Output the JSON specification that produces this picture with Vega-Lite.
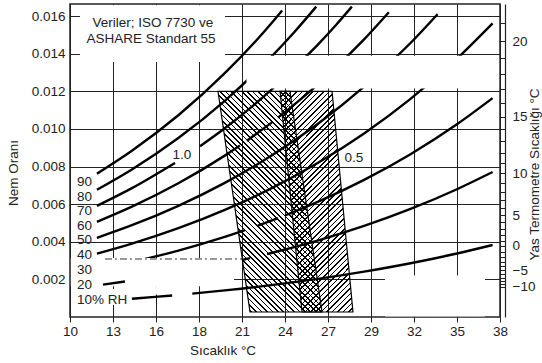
{
"$schema":"https://vega.github.io/schema/vega-lite/v6.json",
"width":430,"height":313,
"autosize":{"type":"none"},
"padding":{"left":70,"top":4,"right":42,"bottom":46},
"config":{"font":"Liberation Sans","view":{"stroke":"#222","strokeWidth":1.5},
"axis":{"labelFont":"Liberation Sans","titleFont":"Liberation Sans","labelFontSize":13.5,"titleFontSize":13.5,"titleFontWeight":"normal","labelColor":"#222","titleColor":"#222","gridColor":"#222","gridWidth":1,"gridOpacity":1,"tickColor":"#222","domainColor":"#222"}},
"datasets":{
"winter":[{"T":19.56,"T2":24.21,"W":0.012},{"T":21.63,"T2":26.28,"W":0.000266}],
"summer":[{"T":23.57,"T2":26.93,"W":0.012},{"T":24.99,"T2":28.28,"W":0.000266}],
"curves":[
{"seg":"c90","T":11.74,"W":0.007621},{"seg":"c90","T":14,"W":0.00884},{"seg":"c90","T":17,"W":0.010724},{"seg":"c90","T":20,"W":0.01296},{"seg":"c90","T":23,"W":0.015606},{"seg":"c90","T":23.705,"W":0.0163},
{"seg":"c80","T":11.74,"W":0.006765},{"seg":"c80","T":14,"W":0.007845},{"seg":"c80","T":17,"W":0.009514},{"seg":"c80","T":20,"W":0.011493},{"seg":"c80","T":23,"W":0.013833},{"seg":"c80","T":24.5,"W":0.015155},{"seg":"c80","T":25.91,"W":0.0165},
{"seg":"c70a","T":11.74,"W":0.005911},{"seg":"c70a","T":14,"W":0.006853},{"seg":"c70a","T":16.78,"W":0.008193},
{"seg":"c70b","T":18.4,"W":0.009077},{"seg":"c70b","T":20,"W":0.010032},{"seg":"c70b","T":23,"W":0.01207},{"seg":"c70b","T":26,"W":0.014467},{"seg":"c70b","T":27.2,"W":0.01554},{"seg":"c70b","T":28.21,"W":0.0165},
{"seg":"c60a","T":11.74,"W":0.00506},{"seg":"c60a","T":14,"W":0.005865},{"seg":"c60a","T":17,"W":0.007108},{"seg":"c60a","T":20,"W":0.008579},{"seg":"c60a","T":20.98,"W":0.009115},
{"seg":"c60b","T":21.43,"W":0.009371},{"seg":"c60b","T":23.05,"W":0.010347},
{"seg":"c60c","T":23.44,"W":0.010596},{"seg":"c60c","T":26,"W":0.012358},{"seg":"c60c","T":29,"W":0.014756},{"seg":"c60c","T":30.6,"W":0.0162},
{"seg":"c50","T":11.74,"W":0.004211},{"seg":"c50","T":14,"W":0.00488},{"seg":"c50","T":17,"W":0.005912},{"seg":"c50","T":20,"W":0.007133},{"seg":"c50","T":23,"W":0.008573},{"seg":"c50","T":26,"W":0.010264},{"seg":"c50","T":29,"W":0.012247},{"seg":"c50","T":32,"W":0.014566},{"seg":"c50","T":33.75,"W":0.0161},
{"seg":"c40","T":11.74,"W":0.003364},{"seg":"c40","T":14,"W":0.003898},{"seg":"c40","T":17,"W":0.00472},{"seg":"c40","T":20,"W":0.005693},{"seg":"c40","T":23,"W":0.006839},{"seg":"c40","T":26,"W":0.008184},{"seg":"c40","T":29,"W":0.009758},{"seg":"c40","T":32,"W":0.011597},{"seg":"c40","T":35,"W":0.013737},{"seg":"c40","T":37.3,"W":0.015612},
{"seg":"c30a","T":11.74,"W":0.00252},{"seg":"c30a","T":14,"W":0.002919},{"seg":"c30a","T":17,"W":0.003533},{"seg":"c30a","T":20,"W":0.00426},{"seg":"c30a","T":21.305,"W":0.004615},
{"seg":"c30b","T":22.145,"W":0.004857},{"seg":"c30b","T":23.438,"W":0.005253},
{"seg":"c30c","T":23.89,"W":0.005396},{"seg":"c30c","T":26,"W":0.006117},{"seg":"c30c","T":29,"W":0.00729},{"seg":"c30c","T":32,"W":0.008656},{"seg":"c30c","T":35,"W":0.010245},{"seg":"c30c","T":37.3,"W":0.011634},
{"seg":"c20a","T":21.1,"W":0.003031},{"seg":"c20a","T":21.63,"W":0.00313},
{"seg":"c20b","T":22.73,"W":0.003346},{"seg":"c20b","T":23,"W":0.003401},{"seg":"c20b","T":26,"W":0.004065},{"seg":"c20b","T":29,"W":0.004841},{"seg":"c20b","T":32,"W":0.005744},{"seg":"c20b","T":35,"W":0.006792},{"seg":"c20b","T":37.3,"W":0.007706},
{"seg":"c10a","T":14.0,"W":0.00097},{"seg":"c10a","T":15.3,"W":0.001054},{"seg":"c10a","T":16.6,"W":0.001144},
{"seg":"c10b","T":17.9,"W":0.001241},{"seg":"c10b","T":20,"W":0.001414},{"seg":"c10b","T":23,"W":0.001695},{"seg":"c10b","T":26,"W":0.002025},{"seg":"c10b","T":29,"W":0.002411},{"seg":"c10b","T":32,"W":0.002858},{"seg":"c10b","T":35,"W":0.003377},{"seg":"c10b","T":37.3,"W":0.003829}
],
"masks":[{"T":10.646,"T2":20.013,"W":0.013557,"W2":0.01658},{"T":21.4,"T2":37.72,"W":0.01215,"W2":0.01389},{"T":10.05,"T2":20.6,"W":0.00164,"W2":0.00313},{"T":15.35,"T2":15.8,"W":0.00119,"W2":0.00164},{"T":30.35,"T2":36.81,"W":0.00003,"W2":0.0022},{"T":12.6,"T2":13.0,"W":0.00064,"W2":0.00149}],
"frag":[{"T":12.13,"W":0.001721},{"T":13.55,"W":0.001887}],
"dash":[{"T":12.26,"W":0.003084},{"T":21.3,"W":0.003084}],
"rhlabels":[{"T":10.452,"W":0.007177,"label":"90"},{"T":10.452,"W":0.006379,"label":"80"},{"T":10.452,"W":0.005609,"label":"70"},{"T":10.452,"W":0.004838,"label":"60"},{"T":10.452,"W":0.004094,"label":"50"},{"T":10.452,"W":0.003296,"label":"40"},{"T":10.452,"W":0.002498,"label":"30"},{"T":10.452,"W":0.001701,"label":"20"},{"T":10.452,"W":0.000904,"label":"10% RH"}],
"labels":[{"T":17.235,"W":0.008613,"label":"1.0"},{"T":28.346,"W":0.008453,"label":"0.5"},{"T":15.36,"W":0.01563,"label":"Veriler; ISO 7730 ve"},{"T":15.23,"W":0.014779,"label":"ASHARE Standart 55"}]
},
"resolve":{"axis":{"y":"independent"}},
"encoding":{
"x":{"field":"T","type":"quantitative","scale":{"domain":[10,37.78],"nice":false,"zero":false},
"axis":{"title":"Sıcaklık °C","values":[10,12.78,15.56,18.33,21.11,23.89,26.67,29.44,32.22,35,37.78],"format":".0f","grid":true,"domain":false,"tickSize":5,"labelPadding":2,"labelFlush":false,"labelOverlap":false,"titleX":152.5,"titleY":33,"titleBaseline":"middle","titleAlign":"center"}}
},
"layer":[
{"data":{"name":"winter"},
"mark":{"type":"area","orient":"horizontal","stroke":"#000","strokeWidth":1.2,"fillOpacity":1,
"fill":{"gradient":"linear","x1":0,"y1":1,"x2":0.5673,"y2":-0.2039,"stops":[
{"offset":0,"color":"#000"},{"offset":0.005,"color":"#000"},{"offset":0.005,"color":"#0000"},{"offset":0.016667,"color":"#0000"},
{"offset":0.016667,"color":"#000"},{"offset":0.021667,"color":"#000"},{"offset":0.021667,"color":"#0000"},{"offset":0.033333,"color":"#0000"},
{"offset":0.033333,"color":"#000"},{"offset":0.038333,"color":"#000"},{"offset":0.038333,"color":"#0000"},{"offset":0.05,"color":"#0000"},
{"offset":0.05,"color":"#000"},{"offset":0.055,"color":"#000"},{"offset":0.055,"color":"#0000"},{"offset":0.066667,"color":"#0000"},
{"offset":0.066667,"color":"#000"},{"offset":0.071667,"color":"#000"},{"offset":0.071667,"color":"#0000"},{"offset":0.083333,"color":"#0000"},
{"offset":0.083333,"color":"#000"},{"offset":0.088333,"color":"#000"},{"offset":0.088333,"color":"#0000"},{"offset":0.1,"color":"#0000"},
{"offset":0.1,"color":"#000"},{"offset":0.105,"color":"#000"},{"offset":0.105,"color":"#0000"},{"offset":0.116667,"color":"#0000"},
{"offset":0.116667,"color":"#000"},{"offset":0.121667,"color":"#000"},{"offset":0.121667,"color":"#0000"},{"offset":0.133333,"color":"#0000"},
{"offset":0.133333,"color":"#000"},{"offset":0.138333,"color":"#000"},{"offset":0.138333,"color":"#0000"},{"offset":0.15,"color":"#0000"},
{"offset":0.15,"color":"#000"},{"offset":0.155,"color":"#000"},{"offset":0.155,"color":"#0000"},{"offset":0.166667,"color":"#0000"},
{"offset":0.166667,"color":"#000"},{"offset":0.171667,"color":"#000"},{"offset":0.171667,"color":"#0000"},{"offset":0.183333,"color":"#0000"},
{"offset":0.183333,"color":"#000"},{"offset":0.188333,"color":"#000"},{"offset":0.188333,"color":"#0000"},{"offset":0.2,"color":"#0000"},
{"offset":0.2,"color":"#000"},{"offset":0.205,"color":"#000"},{"offset":0.205,"color":"#0000"},{"offset":0.216667,"color":"#0000"},
{"offset":0.216667,"color":"#000"},{"offset":0.221667,"color":"#000"},{"offset":0.221667,"color":"#0000"},{"offset":0.233333,"color":"#0000"},
{"offset":0.233333,"color":"#000"},{"offset":0.238333,"color":"#000"},{"offset":0.238333,"color":"#0000"},{"offset":0.25,"color":"#0000"},
{"offset":0.25,"color":"#000"},{"offset":0.255,"color":"#000"},{"offset":0.255,"color":"#0000"},{"offset":0.266667,"color":"#0000"},
{"offset":0.266667,"color":"#000"},{"offset":0.271667,"color":"#000"},{"offset":0.271667,"color":"#0000"},{"offset":0.283333,"color":"#0000"},
{"offset":0.283333,"color":"#000"},{"offset":0.288333,"color":"#000"},{"offset":0.288333,"color":"#0000"},{"offset":0.3,"color":"#0000"},
{"offset":0.3,"color":"#000"},{"offset":0.305,"color":"#000"},{"offset":0.305,"color":"#0000"},{"offset":0.316667,"color":"#0000"},
{"offset":0.316667,"color":"#000"},{"offset":0.321667,"color":"#000"},{"offset":0.321667,"color":"#0000"},{"offset":0.333333,"color":"#0000"},
{"offset":0.333333,"color":"#000"},{"offset":0.338333,"color":"#000"},{"offset":0.338333,"color":"#0000"},{"offset":0.35,"color":"#0000"},
{"offset":0.35,"color":"#000"},{"offset":0.355,"color":"#000"},{"offset":0.355,"color":"#0000"},{"offset":0.366667,"color":"#0000"},
{"offset":0.366667,"color":"#000"},{"offset":0.371667,"color":"#000"},{"offset":0.371667,"color":"#0000"},{"offset":0.383333,"color":"#0000"},
{"offset":0.383333,"color":"#000"},{"offset":0.388333,"color":"#000"},{"offset":0.388333,"color":"#0000"},{"offset":0.4,"color":"#0000"},
{"offset":0.4,"color":"#000"},{"offset":0.405,"color":"#000"},{"offset":0.405,"color":"#0000"},{"offset":0.416667,"color":"#0000"},
{"offset":0.416667,"color":"#000"},{"offset":0.421667,"color":"#000"},{"offset":0.421667,"color":"#0000"},{"offset":0.433333,"color":"#0000"},
{"offset":0.433333,"color":"#000"},{"offset":0.438333,"color":"#000"},{"offset":0.438333,"color":"#0000"},{"offset":0.45,"color":"#0000"},
{"offset":0.45,"color":"#000"},{"offset":0.455,"color":"#000"},{"offset":0.455,"color":"#0000"},{"offset":0.466667,"color":"#0000"},
{"offset":0.466667,"color":"#000"},{"offset":0.471667,"color":"#000"},{"offset":0.471667,"color":"#0000"},{"offset":0.483333,"color":"#0000"},
{"offset":0.483333,"color":"#000"},{"offset":0.488333,"color":"#000"},{"offset":0.488333,"color":"#0000"},{"offset":0.5,"color":"#0000"},
{"offset":0.5,"color":"#000"},{"offset":0.505,"color":"#000"},{"offset":0.505,"color":"#0000"},{"offset":0.516667,"color":"#0000"},
{"offset":0.516667,"color":"#000"},{"offset":0.521667,"color":"#000"},{"offset":0.521667,"color":"#0000"},{"offset":0.533333,"color":"#0000"},
{"offset":0.533333,"color":"#000"},{"offset":0.538333,"color":"#000"},{"offset":0.538333,"color":"#0000"},{"offset":0.55,"color":"#0000"},
{"offset":0.55,"color":"#000"},{"offset":0.555,"color":"#000"},{"offset":0.555,"color":"#0000"},{"offset":0.566667,"color":"#0000"},
{"offset":0.566667,"color":"#000"},{"offset":0.571667,"color":"#000"},{"offset":0.571667,"color":"#0000"},{"offset":0.583333,"color":"#0000"},
{"offset":0.583333,"color":"#000"},{"offset":0.588333,"color":"#000"},{"offset":0.588333,"color":"#0000"},{"offset":0.6,"color":"#0000"},
{"offset":0.6,"color":"#000"},{"offset":0.605,"color":"#000"},{"offset":0.605,"color":"#0000"},{"offset":0.616667,"color":"#0000"},
{"offset":0.616667,"color":"#000"},{"offset":0.621667,"color":"#000"},{"offset":0.621667,"color":"#0000"},{"offset":0.633333,"color":"#0000"},
{"offset":0.633333,"color":"#000"},{"offset":0.638333,"color":"#000"},{"offset":0.638333,"color":"#0000"},{"offset":0.65,"color":"#0000"},
{"offset":0.65,"color":"#000"},{"offset":0.655,"color":"#000"},{"offset":0.655,"color":"#0000"},{"offset":0.666667,"color":"#0000"},
{"offset":0.666667,"color":"#000"},{"offset":0.671667,"color":"#000"},{"offset":0.671667,"color":"#0000"},{"offset":0.683333,"color":"#0000"},
{"offset":0.683333,"color":"#000"},{"offset":0.688333,"color":"#000"},{"offset":0.688333,"color":"#0000"},{"offset":0.7,"color":"#0000"},
{"offset":0.7,"color":"#000"},{"offset":0.705,"color":"#000"},{"offset":0.705,"color":"#0000"},{"offset":0.716667,"color":"#0000"},
{"offset":0.716667,"color":"#000"},{"offset":0.721667,"color":"#000"},{"offset":0.721667,"color":"#0000"},{"offset":0.733333,"color":"#0000"},
{"offset":0.733333,"color":"#000"},{"offset":0.738333,"color":"#000"},{"offset":0.738333,"color":"#0000"},{"offset":0.75,"color":"#0000"},
{"offset":0.75,"color":"#000"},{"offset":0.755,"color":"#000"},{"offset":0.755,"color":"#0000"},{"offset":0.766667,"color":"#0000"},
{"offset":0.766667,"color":"#000"},{"offset":0.771667,"color":"#000"},{"offset":0.771667,"color":"#0000"},{"offset":0.783333,"color":"#0000"},
{"offset":0.783333,"color":"#000"},{"offset":0.788333,"color":"#000"},{"offset":0.788333,"color":"#0000"},{"offset":0.8,"color":"#0000"},
{"offset":0.8,"color":"#000"},{"offset":0.805,"color":"#000"},{"offset":0.805,"color":"#0000"},{"offset":0.816667,"color":"#0000"},
{"offset":0.816667,"color":"#000"},{"offset":0.821667,"color":"#000"},{"offset":0.821667,"color":"#0000"},{"offset":0.833333,"color":"#0000"},
{"offset":0.833333,"color":"#000"},{"offset":0.838333,"color":"#000"},{"offset":0.838333,"color":"#0000"},{"offset":0.85,"color":"#0000"},
{"offset":0.85,"color":"#000"},{"offset":0.855,"color":"#000"},{"offset":0.855,"color":"#0000"},{"offset":0.866667,"color":"#0000"},
{"offset":0.866667,"color":"#000"},{"offset":0.871667,"color":"#000"},{"offset":0.871667,"color":"#0000"},{"offset":0.883333,"color":"#0000"},
{"offset":0.883333,"color":"#000"},{"offset":0.888333,"color":"#000"},{"offset":0.888333,"color":"#0000"},{"offset":0.9,"color":"#0000"},
{"offset":0.9,"color":"#000"},{"offset":0.905,"color":"#000"},{"offset":0.905,"color":"#0000"},{"offset":0.916667,"color":"#0000"},
{"offset":0.916667,"color":"#000"},{"offset":0.921667,"color":"#000"},{"offset":0.921667,"color":"#0000"},{"offset":0.933333,"color":"#0000"},
{"offset":0.933333,"color":"#000"},{"offset":0.938333,"color":"#000"},{"offset":0.938333,"color":"#0000"},{"offset":0.95,"color":"#0000"},
{"offset":0.95,"color":"#000"},{"offset":0.955,"color":"#000"},{"offset":0.955,"color":"#0000"},{"offset":0.966667,"color":"#0000"},
{"offset":0.966667,"color":"#000"},{"offset":0.971667,"color":"#000"},{"offset":0.971667,"color":"#0000"},{"offset":0.983333,"color":"#0000"},
{"offset":0.983333,"color":"#000"},{"offset":0.988333,"color":"#000"},{"offset":0.988333,"color":"#0000"},{"offset":1,"color":"#0000"}
]}},
"encoding":{
"x2":{"field":"T2"},
"y":{"field":"W","type":"quantitative","scale":{"domain":[0,0.01664],"nice":false,"zero":false},
"axis":{"orient":"left","title":"Nem Oranı","values":[0.002,0.004,0.006,0.008,0.01,0.012,0.014,0.016],"format":".3f","grid":true,"domain":false,"ticks":false,"labelPadding":5,"labelFlush":false,"labelOverlap":false,"titleX":-57,"titleY":168.5,"titleAngle":270,"titleBaseline":"middle","titleAlign":"center"}}
}},
{"data":{"name":"summer"},
"mark":{"type":"area","orient":"horizontal","stroke":"#000","strokeWidth":1.2,"fillOpacity":1,
"fill":{"gradient":"linear","x1":0,"y1":0,"x2":0.39676,"y2":1.19951,"stops":[
{"offset":0,"color":"#000"},{"offset":0.0055,"color":"#000"},{"offset":0.0055,"color":"#0000"},{"offset":0.018519,"color":"#0000"},
{"offset":0.018519,"color":"#000"},{"offset":0.024019,"color":"#000"},{"offset":0.024019,"color":"#0000"},{"offset":0.037037,"color":"#0000"},
{"offset":0.037037,"color":"#000"},{"offset":0.042537,"color":"#000"},{"offset":0.042537,"color":"#0000"},{"offset":0.055556,"color":"#0000"},
{"offset":0.055556,"color":"#000"},{"offset":0.061056,"color":"#000"},{"offset":0.061056,"color":"#0000"},{"offset":0.074074,"color":"#0000"},
{"offset":0.074074,"color":"#000"},{"offset":0.079574,"color":"#000"},{"offset":0.079574,"color":"#0000"},{"offset":0.092593,"color":"#0000"},
{"offset":0.092593,"color":"#000"},{"offset":0.098093,"color":"#000"},{"offset":0.098093,"color":"#0000"},{"offset":0.111111,"color":"#0000"},
{"offset":0.111111,"color":"#000"},{"offset":0.116611,"color":"#000"},{"offset":0.116611,"color":"#0000"},{"offset":0.12963,"color":"#0000"},
{"offset":0.12963,"color":"#000"},{"offset":0.13513,"color":"#000"},{"offset":0.13513,"color":"#0000"},{"offset":0.148148,"color":"#0000"},
{"offset":0.148148,"color":"#000"},{"offset":0.153648,"color":"#000"},{"offset":0.153648,"color":"#0000"},{"offset":0.166667,"color":"#0000"},
{"offset":0.166667,"color":"#000"},{"offset":0.172167,"color":"#000"},{"offset":0.172167,"color":"#0000"},{"offset":0.185185,"color":"#0000"},
{"offset":0.185185,"color":"#000"},{"offset":0.190685,"color":"#000"},{"offset":0.190685,"color":"#0000"},{"offset":0.203704,"color":"#0000"},
{"offset":0.203704,"color":"#000"},{"offset":0.209204,"color":"#000"},{"offset":0.209204,"color":"#0000"},{"offset":0.222222,"color":"#0000"},
{"offset":0.222222,"color":"#000"},{"offset":0.227722,"color":"#000"},{"offset":0.227722,"color":"#0000"},{"offset":0.240741,"color":"#0000"},
{"offset":0.240741,"color":"#000"},{"offset":0.246241,"color":"#000"},{"offset":0.246241,"color":"#0000"},{"offset":0.259259,"color":"#0000"},
{"offset":0.259259,"color":"#000"},{"offset":0.264759,"color":"#000"},{"offset":0.264759,"color":"#0000"},{"offset":0.277778,"color":"#0000"},
{"offset":0.277778,"color":"#000"},{"offset":0.283278,"color":"#000"},{"offset":0.283278,"color":"#0000"},{"offset":0.296296,"color":"#0000"},
{"offset":0.296296,"color":"#000"},{"offset":0.301796,"color":"#000"},{"offset":0.301796,"color":"#0000"},{"offset":0.314815,"color":"#0000"},
{"offset":0.314815,"color":"#000"},{"offset":0.320315,"color":"#000"},{"offset":0.320315,"color":"#0000"},{"offset":0.333333,"color":"#0000"},
{"offset":0.333333,"color":"#000"},{"offset":0.338833,"color":"#000"},{"offset":0.338833,"color":"#0000"},{"offset":0.351852,"color":"#0000"},
{"offset":0.351852,"color":"#000"},{"offset":0.357352,"color":"#000"},{"offset":0.357352,"color":"#0000"},{"offset":0.37037,"color":"#0000"},
{"offset":0.37037,"color":"#000"},{"offset":0.37587,"color":"#000"},{"offset":0.37587,"color":"#0000"},{"offset":0.388889,"color":"#0000"},
{"offset":0.388889,"color":"#000"},{"offset":0.394389,"color":"#000"},{"offset":0.394389,"color":"#0000"},{"offset":0.407407,"color":"#0000"},
{"offset":0.407407,"color":"#000"},{"offset":0.412907,"color":"#000"},{"offset":0.412907,"color":"#0000"},{"offset":0.425926,"color":"#0000"},
{"offset":0.425926,"color":"#000"},{"offset":0.431426,"color":"#000"},{"offset":0.431426,"color":"#0000"},{"offset":0.444444,"color":"#0000"},
{"offset":0.444444,"color":"#000"},{"offset":0.449944,"color":"#000"},{"offset":0.449944,"color":"#0000"},{"offset":0.462963,"color":"#0000"},
{"offset":0.462963,"color":"#000"},{"offset":0.468463,"color":"#000"},{"offset":0.468463,"color":"#0000"},{"offset":0.481481,"color":"#0000"},
{"offset":0.481481,"color":"#000"},{"offset":0.486981,"color":"#000"},{"offset":0.486981,"color":"#0000"},{"offset":0.5,"color":"#0000"},
{"offset":0.5,"color":"#000"},{"offset":0.5055,"color":"#000"},{"offset":0.5055,"color":"#0000"},{"offset":0.518519,"color":"#0000"},
{"offset":0.518519,"color":"#000"},{"offset":0.524019,"color":"#000"},{"offset":0.524019,"color":"#0000"},{"offset":0.537037,"color":"#0000"},
{"offset":0.537037,"color":"#000"},{"offset":0.542537,"color":"#000"},{"offset":0.542537,"color":"#0000"},{"offset":0.555556,"color":"#0000"},
{"offset":0.555556,"color":"#000"},{"offset":0.561056,"color":"#000"},{"offset":0.561056,"color":"#0000"},{"offset":0.574074,"color":"#0000"},
{"offset":0.574074,"color":"#000"},{"offset":0.579574,"color":"#000"},{"offset":0.579574,"color":"#0000"},{"offset":0.592593,"color":"#0000"},
{"offset":0.592593,"color":"#000"},{"offset":0.598093,"color":"#000"},{"offset":0.598093,"color":"#0000"},{"offset":0.611111,"color":"#0000"},
{"offset":0.611111,"color":"#000"},{"offset":0.616611,"color":"#000"},{"offset":0.616611,"color":"#0000"},{"offset":0.62963,"color":"#0000"},
{"offset":0.62963,"color":"#000"},{"offset":0.63513,"color":"#000"},{"offset":0.63513,"color":"#0000"},{"offset":0.648148,"color":"#0000"},
{"offset":0.648148,"color":"#000"},{"offset":0.653648,"color":"#000"},{"offset":0.653648,"color":"#0000"},{"offset":0.666667,"color":"#0000"},
{"offset":0.666667,"color":"#000"},{"offset":0.672167,"color":"#000"},{"offset":0.672167,"color":"#0000"},{"offset":0.685185,"color":"#0000"},
{"offset":0.685185,"color":"#000"},{"offset":0.690685,"color":"#000"},{"offset":0.690685,"color":"#0000"},{"offset":0.703704,"color":"#0000"},
{"offset":0.703704,"color":"#000"},{"offset":0.709204,"color":"#000"},{"offset":0.709204,"color":"#0000"},{"offset":0.722222,"color":"#0000"},
{"offset":0.722222,"color":"#000"},{"offset":0.727722,"color":"#000"},{"offset":0.727722,"color":"#0000"},{"offset":0.740741,"color":"#0000"},
{"offset":0.740741,"color":"#000"},{"offset":0.746241,"color":"#000"},{"offset":0.746241,"color":"#0000"},{"offset":0.759259,"color":"#0000"},
{"offset":0.759259,"color":"#000"},{"offset":0.764759,"color":"#000"},{"offset":0.764759,"color":"#0000"},{"offset":0.777778,"color":"#0000"},
{"offset":0.777778,"color":"#000"},{"offset":0.783278,"color":"#000"},{"offset":0.783278,"color":"#0000"},{"offset":0.796296,"color":"#0000"},
{"offset":0.796296,"color":"#000"},{"offset":0.801796,"color":"#000"},{"offset":0.801796,"color":"#0000"},{"offset":0.814815,"color":"#0000"},
{"offset":0.814815,"color":"#000"},{"offset":0.820315,"color":"#000"},{"offset":0.820315,"color":"#0000"},{"offset":0.833333,"color":"#0000"},
{"offset":0.833333,"color":"#000"},{"offset":0.838833,"color":"#000"},{"offset":0.838833,"color":"#0000"},{"offset":0.851852,"color":"#0000"},
{"offset":0.851852,"color":"#000"},{"offset":0.857352,"color":"#000"},{"offset":0.857352,"color":"#0000"},{"offset":0.87037,"color":"#0000"},
{"offset":0.87037,"color":"#000"},{"offset":0.87587,"color":"#000"},{"offset":0.87587,"color":"#0000"},{"offset":0.888889,"color":"#0000"},
{"offset":0.888889,"color":"#000"},{"offset":0.894389,"color":"#000"},{"offset":0.894389,"color":"#0000"},{"offset":0.907407,"color":"#0000"},
{"offset":0.907407,"color":"#000"},{"offset":0.912907,"color":"#000"},{"offset":0.912907,"color":"#0000"},{"offset":0.925926,"color":"#0000"},
{"offset":0.925926,"color":"#000"},{"offset":0.931426,"color":"#000"},{"offset":0.931426,"color":"#0000"},{"offset":0.944444,"color":"#0000"},
{"offset":0.944444,"color":"#000"},{"offset":0.949944,"color":"#000"},{"offset":0.949944,"color":"#0000"},{"offset":0.962963,"color":"#0000"},
{"offset":0.962963,"color":"#000"},{"offset":0.968463,"color":"#000"},{"offset":0.968463,"color":"#0000"},{"offset":0.981481,"color":"#0000"},
{"offset":0.981481,"color":"#000"},{"offset":0.986981,"color":"#000"},{"offset":0.986981,"color":"#0000"},{"offset":1,"color":"#0000"}
]}},
"encoding":{
"x2":{"field":"T2"},
"y":{"field":"W","type":"quantitative","scale":{"domain":[0,0.01664],"nice":false,"zero":false},"axis":null}
}},
{"data":{"name":"curves"},
"mark":{"type":"line","interpolate":"monotone","color":"#000","strokeWidth":2.4,"strokeCap":"butt"},
"encoding":{
"y":{"field":"W","type":"quantitative","scale":{"domain":[0,0.01664],"nice":false,"zero":false},
"axis":{"orient":"right","title":"Yas Termometre Sıcaklığı °C","values":[0.0016,0.001748,0.001908,0.002082,0.00227,0.002476,0.002696,0.002935,0.003194,0.003473,0.003775,0.004061,0.004364,0.004688,0.005034,0.005403,0.005797,0.006216,0.006661,0.007134,0.007637,0.00817,0.008737,0.009338,0.009974,0.010649,0.011364,0.01212,0.01292,0.013768,0.014665,0.015614],
"labelExpr":"abs(datum.value-0.014665)<0.0000001?'20':abs(datum.value-0.010649)<0.0000001?'15':abs(datum.value-0.007637)<0.0000001?'10':abs(datum.value-0.005403)<0.0000001?'5':abs(datum.value-0.003775)<0.0000001?'0':abs(datum.value-0.002476)<0.0000001?'−5':abs(datum.value-0.0016)<0.0000001?'−10':''",
"grid":false,"domain":true,"domainWidth":1.2,"offset":5,"ticks":true,"tickSize":-5,"tickWidth":1,"labelPadding":12,"labelAlign":"left","labelOverlap":false,"labelBound":false,"labelFlush":false,
"titleAngle":270,"titleX":29,"titleY":170,"titleBaseline":"middle","titleAlign":"center"}},
"detail":{"field":"seg"}
}},
{"data":{"name":"masks"},
"mark":{"type":"rect","fill":"#fff","stroke":null},
"encoding":{
"x2":{"field":"T2"},
"y":{"field":"W","type":"quantitative","scale":{"domain":[0,0.01664],"nice":false,"zero":false},"axis":null},
"y2":{"field":"W2"}
}},
{"data":{"name":"frag"},
"mark":{"type":"line","color":"#000","strokeWidth":2.4,"strokeCap":"butt"},
"encoding":{
"y":{"field":"W","type":"quantitative","scale":{"domain":[0,0.01664],"nice":false,"zero":false},"axis":null}
}},
{"data":{"name":"dash"},
"mark":{"type":"line","color":"#333","strokeWidth":1,"strokeDash":[7,3,2,3]},
"encoding":{
"y":{"field":"W","type":"quantitative","scale":{"domain":[0,0.01664],"nice":false,"zero":false},"axis":null}
}},
{"data":{"name":"rhlabels"},
"mark":{"type":"text","align":"left","baseline":"middle","fontSize":13.5,"font":"Liberation Sans","color":"#222"},
"encoding":{
"y":{"field":"W","type":"quantitative","scale":{"domain":[0,0.01664],"nice":false,"zero":false},"axis":null},
"text":{"field":"label"}
}},
{"data":{"name":"labels"},
"mark":{"type":"text","align":"center","baseline":"middle","fontSize":13.5,"font":"Liberation Sans","color":"#222"},
"encoding":{
"y":{"field":"W","type":"quantitative","scale":{"domain":[0,0.01664],"nice":false,"zero":false},"axis":null},
"text":{"field":"label"}
}}
]
}
